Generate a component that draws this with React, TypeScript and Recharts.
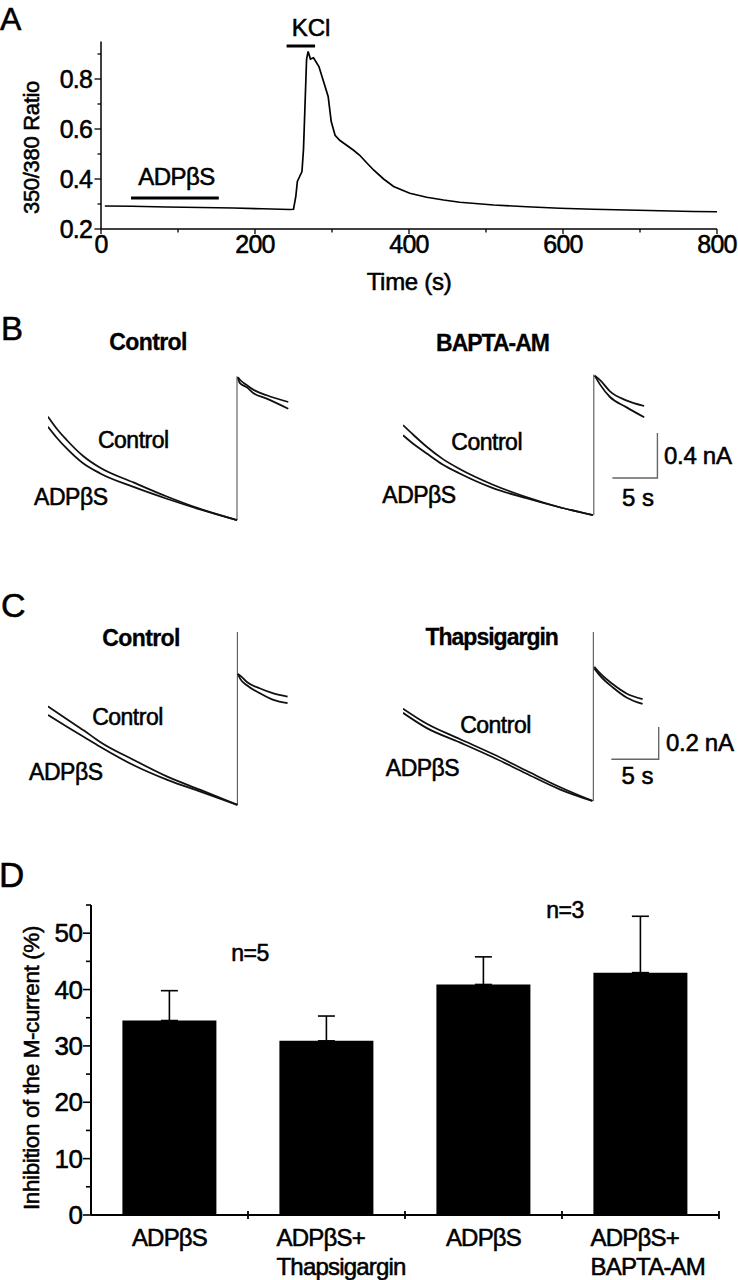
import React from 'react';
import { LineChart, Line, XAxis, YAxis, ReferenceLine, BarChart, Bar, ErrorBar } from 'recharts';

const FONT = '"Liberation Sans", Arial, Helvetica, sans-serif';
// the scanned figure's lettering is heavier than a plain regular face
const INK = 0.55;

// ---- Panel A: fura-2 350/380 ratio over time
const aTime = [5, 40, 85, 130, 172, 210, 245, 250, 253, 255, 258, 261, 263, 265, 267, 269, 272, 276, 283, 289, 295, 299, 304, 310, 319, 328, 336, 345, 354, 367, 380, 401, 423, 445, 466, 510, 553, 596, 639, 683, 726, 769, 800];
const aRatio = [0.292, 0.291, 0.288, 0.286, 0.284, 0.281, 0.278, 0.279, 0.33, 0.39, 0.41, 0.43, 0.52, 0.7, 0.88, 0.91, 0.88, 0.885, 0.85, 0.79, 0.73, 0.63, 0.575, 0.555, 0.535, 0.515, 0.495, 0.465, 0.436, 0.4, 0.37, 0.343, 0.327, 0.316, 0.307, 0.296, 0.289, 0.283, 0.279, 0.276, 0.273, 0.27, 0.269];
const aXTicks = [0, 100, 200, 300, 400, 500, 600, 700, 800];
const aYTicks = [0.2, 0.3, 0.4, 0.5, 0.6, 0.7, 0.8, 0.9];
const adpApplication = [39, 153];
const adpBarLevel = 0.324;
const kclApplication = [241, 278];
const kclBarLevel = 0.932;

// ---- Panel B: M-current deactivation (time s, current nA above holding)
const bLeftTPre = [0, 1.0, 2.1, 3.9, 5.8, 9.5, 13.2, 16.9, 21.0];
const bLeftCtrlPre = [0.92, 0.81, 0.71, 0.57, 0.465, 0.335, 0.21, 0.1, 0];
const bLeftAdpPre = [0.83, 0.73, 0.635, 0.505, 0.415, 0.295, 0.19, 0.095, 0];
const bLeftTPost = [21.1, 21.3, 22.1, 22.8, 24.3, 26.7];
const bLeftCtrlPost = [1.27, 1.25, 1.2, 1.16, 1.11, 1.05];
const bLeftAdpPost = [1.27, 1.22, 1.18, 1.13, 1.08, 0.99];

const bRightTPre = [0, 1.2, 2.6, 4.4, 6.3, 10.0, 13.7, 17.4, 21.1];
const bRightCtrlPre = [0.8, 0.71, 0.61, 0.5, 0.41, 0.27, 0.16, 0.07, 0];
const bRightAdpPre = [0.71, 0.63, 0.55, 0.45, 0.37, 0.24, 0.15, 0.07, 0];
const bRightTPost = [21.3, 21.9, 23.0, 24.8, 26.8];
const bRightCtrlPost = [1.24, 1.2, 1.1, 1.02, 0.97];
const bRightAdpPost = [1.24, 1.16, 1.05, 0.96, 0.87];

// ---- Panel C
const cLeftTPre = [0, 2.0, 3.8, 5.5, 9.0, 12.6, 16.1, 20.0];
const cLeftCtrlPre = [0.61, 0.53, 0.46, 0.39, 0.28, 0.175, 0.093, 0];
const cLeftAdpPre = [0.557, 0.484, 0.42, 0.36, 0.247, 0.155, 0.082, 0];
const cLeftTPost = [20.05, 20.3, 21.0, 22.4, 23.8, 25.3];
const cLeftCtrlPost = [0.81, 0.8, 0.76, 0.72, 0.69, 0.67];
const cLeftAdpPost = [0.81, 0.78, 0.74, 0.69, 0.65, 0.63];

const cRightTPre = [0, 2.47, 6.0, 9.5, 13.0, 16.55, 20.0];
const cRightCtrlPre = [0.571, 0.479, 0.383, 0.29, 0.188, 0.086, 0];
const cRightAdpPre = [0.545, 0.452, 0.362, 0.27, 0.17, 0.072, 0];
const cRightTPost = [20.2, 20.8, 22.2, 23.6, 25.3];
const cRightCtrlPost = [0.83, 0.79, 0.72, 0.665, 0.63];
const cRightAdpPost = [0.82, 0.775, 0.7, 0.64, 0.6];

// ---- Panel D: % inhibition of the M-current
const dKeys = ['c0', 'c1', 'c2', 'c3'];
const dLabels = [['ADPβS'], ['ADPβS+', 'Thapsigargin'], ['ADPβS'], ['ADPβS+', 'BAPTA-AM']];
const dMeans = [34.5, 30.9, 40.9, 43.0];
const dSem = [5.3, 4.4, 4.9, 10.0];
const dYTicks = [0, 5, 10, 15, 20, 25, 30, 35, 40, 45, 50, 55];

const aData = aTime.map((t, k) => ({ t, r: aRatio[k] }));
const dData = dKeys.map((key, k) => ({ key, mean: dMeans[k], err: [0, dSem[k]] }));

// layout: D plot spans x 91..719
const D_BAND = (738 - 91 - 19) / 4;

const segRows = (tPre: number[], yPre: number[], tPost: number[], yPost: number[]) => [
  ...tPre.map((t, k) => ({ t, i: yPre[k] as number | null })),
  { t: (tPre[tPre.length - 1] + tPost[0]) / 2, i: null },
  ...tPost.map((t, k) => ({ t, i: yPost[k] as number | null })),
];

type Box = { left: number; top: number; width: number; height: number; xMax: number; yMin: number; yMax: number };
const traceBox = (originX: number, zeroY: number, pxS: number, pxNA: number, xMax: number, yMin: number, yMax: number): Box => ({
  left: originX,
  top: zeroY - yMax * pxNA,
  width: xMax * pxS,
  height: (yMax - yMin) * pxNA,
  xMax,
  yMin,
  yMax,
});

function TracePanel({ box, ctrl, adp, stepT, stepTop, scale }: {
  box: Box;
  ctrl: { t: number; i: number | null }[];
  adp: { t: number; i: number | null }[];
  stepT: number;
  stepTop: number;
  scale?: { t0: number; i0: number; len: number; amp: number };
}) {
  const stepRows = [{ t: stepT, i: 0 }, { t: stepT, i: stepTop }];
  const scaleRows = scale
    ? [
        { t: scale.t0, i: scale.i0 },
        { t: scale.t0 + scale.len, i: scale.i0 },
        { t: scale.t0 + scale.len, i: scale.i0 + scale.amp },
      ]
    : [];
  return (
    <div style={{ position: 'absolute', left: box.left, top: box.top }}>
      <LineChart width={box.width} height={box.height} margin={{ top: 0, right: 0, bottom: 0, left: 0 }}>
        <XAxis type="number" dataKey="t" domain={[0, box.xMax]} hide allowDataOverflow />
        <YAxis type="number" domain={[box.yMin, box.yMax]} hide allowDataOverflow />
        <Line data={stepRows} dataKey="i" type="linear" stroke="#555" strokeWidth={1.1} dot={false} isAnimationActive={false} />
        <Line data={ctrl} dataKey="i" type="monotone" stroke="#111" strokeWidth={1.8} dot={false} isAnimationActive={false} />
        <Line data={adp} dataKey="i" type="monotone" stroke="#111" strokeWidth={1.8} dot={false} isAnimationActive={false} />
        {scale && (
          <Line data={scaleRows} dataKey="i" type="linear" stroke="#666" strokeWidth={1.4} dot={false} isAnimationActive={false} />
        )}
      </LineChart>
    </div>
  );
}

const aXTick = (p: any) => {
  const v = p.payload.value;
  const major = v % 200 === 0;
  return (
    <g>
      <line x1={p.x} x2={p.x} y1={p.y} y2={p.y + (major ? 5 : 3.5)} stroke="#000" strokeWidth={1.3} />
      {major && (
        <text x={p.x} y={p.y + 15} textAnchor="middle" dominantBaseline="central" fontSize={25} letterSpacing={-0.8} fontFamily={FONT} fill="#000" stroke="#000" strokeWidth={INK}>
          {v}
        </text>
      )}
    </g>
  );
};

const aYTick = (p: any) => {
  const v = p.payload.value;
  const major = Math.round(v * 10) % 2 === 0;
  return (
    <g>
      <line x1={p.x - (major ? 6.5 : 3.5)} x2={p.x} y1={p.y} y2={p.y} stroke="#000" strokeWidth={1.3} />
      {major && (
        <text x={p.x - 9} y={p.y} textAnchor="end" dominantBaseline="central" fontSize={25} letterSpacing={-0.8} fontFamily={FONT} fill="#000" stroke="#000" strokeWidth={INK}>
          {v.toFixed(1)}
        </text>
      )}
    </g>
  );
};

const dYTick = (p: any) => {
  const v = p.payload.value;
  const major = v % 10 === 0;
  return (
    <g>
      <line x1={p.x - (major ? 8 : 5)} x2={p.x} y1={p.y} y2={p.y} stroke="#000" strokeWidth={1.6} />
      {major && (
        <text x={p.x - 8.5} y={p.y} textAnchor="end" dominantBaseline="central" fontSize={26} letterSpacing={-0.5} fontFamily={FONT} fill="#000" stroke="#000" strokeWidth={INK}>
          {v}
        </text>
      )}
    </g>
  );
};

const dXTick = (p: any) => {
  const idx = p.index ?? 0;
  const lines = dLabels[idx] || [];
  const half = D_BAND / 2;
  const two = lines.length > 1;
  return (
    <g>
      <line x1={p.x + half} x2={p.x + half} y1={p.y - 4} y2={p.y + 4} stroke="#000" strokeWidth={1.8} />
      {lines.map((l, k) => (
        <text
          key={k}
          x={two ? p.x - 50 : p.x}
          y={p.y + 22.5 + k * 28.5}
          textAnchor={two ? 'start' : 'middle'}
          dominantBaseline="central"
          fontSize={24}
          letterSpacing={-0.8}
          fontFamily={FONT}
          fill="#000"
          stroke="#000"
          strokeWidth={INK}
        >
          {l}
        </text>
      ))}
    </g>
  );
};

type Note = { s: string; x: number; y: number; size?: number; bold?: boolean; anchor?: 'start' | 'middle' | 'end'; rot?: boolean; ls?: number };
const notes: Note[] = [
  { s: 'A', x: 0, y: 18.5, size: 32, anchor: 'start' },
  { s: 'B', x: 1, y: 328, size: 33, anchor: 'start' },
  { s: 'C', x: 1, y: 605, size: 34, anchor: 'start' },
  { s: 'D', x: -1, y: 874.5, size: 35, anchor: 'start' },
  { s: 'KCl', x: 311, y: 27.5, size: 24 },
  { s: 'ADPβS', x: 176.5, y: 176, size: 24, ls: -0.5 },
  { s: 'Time (s)', x: 409, y: 281.5, size: 24, ls: -0.3 },
  { s: '350/380 Ratio', x: 31, y: 147.5, size: 22, rot: true, ls: -0.3 },
  { s: 'Control', x: 148, y: 341.5, size: 23, bold: true, ls: -0.6 },
  { s: 'BAPTA-AM', x: 492.5, y: 343, size: 23, bold: true, ls: -1 },
  { s: 'Control', x: 133.3, y: 440, size: 23, ls: -0.5 },
  { s: 'ADPβS', x: 70.8, y: 496.5, size: 23, ls: -0.5 },
  { s: 'Control', x: 486.7, y: 441.7, size: 23, ls: -0.5 },
  { s: 'ADPβS', x: 419, y: 495, size: 23, ls: -0.5 },
  { s: '0.4 nA', x: 664, y: 455, size: 24, anchor: 'start', ls: -0.3 },
  { s: '5 s', x: 638, y: 497, size: 24 },
  { s: 'Control', x: 141, y: 637.7, size: 23, bold: true, ls: -0.6 },
  { s: 'Thapsigargin', x: 491.7, y: 636.7, size: 23, bold: true, ls: -1 },
  { s: 'Control', x: 127.5, y: 716.7, size: 23, ls: -0.5 },
  { s: 'ADPβS', x: 65.8, y: 771.7, size: 23, ls: -0.5 },
  { s: 'Control', x: 495.5, y: 725, size: 23, ls: -0.5 },
  { s: 'ADPβS', x: 422.5, y: 768, size: 23, ls: -0.5 },
  { s: '0.2 nA', x: 666, y: 742.5, size: 24, anchor: 'start', ls: -0.3 },
  { s: '5 s', x: 637.5, y: 775.7, size: 24 },
  { s: 'n=5', x: 250, y: 953.3, size: 23, ls: -0.5 },
  { s: 'n=3', x: 565, y: 910, size: 23, ls: -0.5 },
  { s: 'Inhibition of the M-current (%)', x: 31.5, y: 1068, size: 22.5, rot: true, ls: -0.4 },
];

export default function App() {
  const bLeft = traceBox(48, 520, 9, 112.5, 28, -0.15, 1.45);
  const bRight = traceBox(403.3, 515, 9, 112.5, 29.5, -0.15, 1.45);
  const cLeft = traceBox(47.7, 805, 9.47, 161.7, 27, -0.1, 1.15);
  const cRight = traceBox(403.3, 800.7, 9.47, 161.7, 28, -0.1, 1.15);

  return (
    <div style={{ position: 'absolute', left: 0, top: 0, width: 738, height: 1280, background: '#fff', fontFamily: FONT, overflow: 'hidden' }}>
      {/* A */}
      <div style={{ position: 'absolute', left: 0, top: 0 }}>
        <LineChart width={738} height={300} data={aData} margin={{ top: 41.5, right: 21, bottom: 0, left: 0 }}>
          <XAxis
            type="number"
            dataKey="t"
            domain={[0, 800]}
            ticks={aXTicks}
            interval={0}
            height={71}
            tickSize={0}
            tickMargin={0}
            tickLine={false}
            axisLine={{ stroke: '#000', strokeWidth: 1.5 }}
            tick={aXTick}
          />
          <YAxis
            type="number"
            domain={[0.2, 0.95]}
            ticks={aYTicks}
            interval={0}
            width={101}
            tickSize={0}
            tickMargin={0}
            tickLine={false}
            axisLine={{ stroke: '#000', strokeWidth: 1.5 }}
            tick={aYTick}
          />
          <ReferenceLine
            segment={[{ x: adpApplication[0], y: adpBarLevel }, { x: adpApplication[1], y: adpBarLevel }]}
            stroke="#000"
            strokeWidth={2.8}
          />
          <ReferenceLine
            segment={[{ x: kclApplication[0], y: kclBarLevel }, { x: kclApplication[1], y: kclBarLevel }]}
            stroke="#000"
            strokeWidth={3}
          />
          <Line dataKey="r" type="linear" stroke="#000" strokeWidth={1.7} dot={false} isAnimationActive={false} />
        </LineChart>
      </div>

      {/* B */}
      <TracePanel
        box={bLeft}
        ctrl={segRows(bLeftTPre, bLeftCtrlPre, bLeftTPost, bLeftCtrlPost)}
        adp={segRows(bLeftTPre, bLeftAdpPre, bLeftTPost, bLeftAdpPost)}
        stepT={21.0}
        stepTop={1.28}
      />
      <TracePanel
        box={bRight}
        ctrl={segRows(bRightTPre, bRightCtrlPre, bRightTPost, bRightCtrlPost)}
        adp={segRows(bRightTPre, bRightAdpPre, bRightTPost, bRightAdpPost)}
        stepT={21.2}
        stepTop={1.25}
        scale={{ t0: 23.27, i0: 0.33, len: 5, amp: 0.4 }}
      />

      {/* C */}
      <TracePanel
        box={cLeft}
        ctrl={segRows(cLeftTPre, cLeftCtrlPre, cLeftTPost, cLeftCtrlPost)}
        adp={segRows(cLeftTPre, cLeftAdpPre, cLeftTPost, cLeftAdpPost)}
        stepT={20.0}
        stepTop={1.07}
      />
      <TracePanel
        box={cRight}
        ctrl={segRows(cRightTPre, cRightCtrlPre, cRightTPost, cRightCtrlPost)}
        adp={segRows(cRightTPre, cRightAdpPre, cRightTPost, cRightAdpPost)}
        stepT={20.1}
        stepTop={1.045}
        scale={{ t0: 22.0, i0: 0.258, len: 5, amp: 0.2 }}
      />

      {/* D */}
      <div style={{ position: 'absolute', left: 0, top: 880 }}>
        <BarChart width={738} height={400} data={dData} margin={{ top: 25, right: 19, bottom: 0, left: 0 }} barCategoryGap="20%">
          <XAxis
            dataKey="key"
            height={65}
            interval={0}
            tickSize={0}
            tickMargin={0}
            tickLine={false}
            axisLine={{ stroke: '#000', strokeWidth: 2 }}
            tick={dXTick}
          />
          <YAxis
            type="number"
            domain={[0, 55]}
            ticks={dYTicks}
            interval={0}
            width={91}
            tickSize={0}
            tickMargin={0}
            tickLine={false}
            axisLine={{ stroke: '#000', strokeWidth: 2 }}
            tick={dYTick}
          />
          <Bar dataKey="mean" fill="#000" isAnimationActive={false}>
            <ErrorBar dataKey="err" direction="y" width={8.5} stroke="#000" strokeWidth={1.6} />
          </Bar>
        </BarChart>
      </div>

      {/* text annotations */}
      <svg width={738} height={1280} style={{ position: 'absolute', left: 0, top: 0, pointerEvents: 'none' }}>
        {notes.map((n, k) => (
          <text
            key={k}
            x={n.x}
            y={n.y}
            fontSize={n.size ?? 23}
            fontWeight={n.bold ? 700 : 400}
            fontFamily={FONT}
            letterSpacing={n.ls ?? 0}
            textAnchor={n.anchor ?? 'middle'}
            dominantBaseline="central"
            transform={n.rot ? `rotate(-90 ${n.x} ${n.y})` : undefined}
            fill="#000"
            stroke="#000"
            strokeWidth={n.bold ? 0.3 : INK}
          >
            {n.s}
          </text>
        ))}
      </svg>
    </div>
  );
}
